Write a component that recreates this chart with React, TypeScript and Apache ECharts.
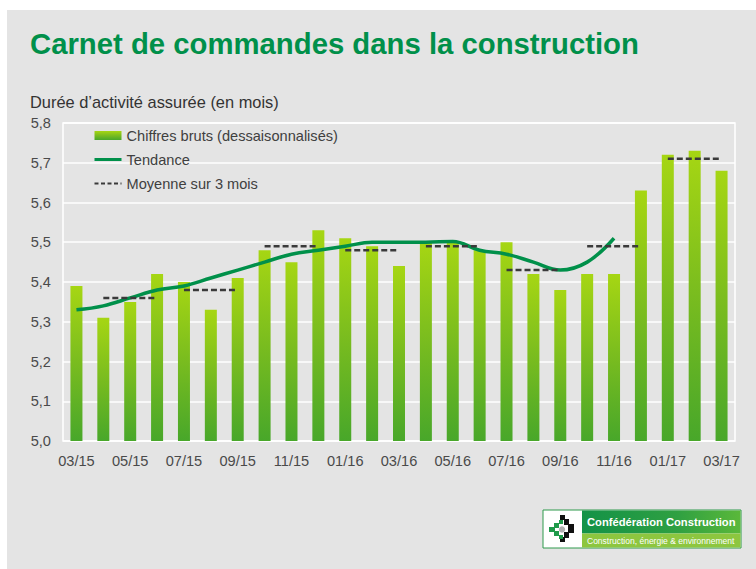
import React, { useEffect, useRef } from "react";
import * as echarts from "echarts";

const categories = [
  "03/15", "04/15", "05/15", "06/15", "07/15", "08/15", "09/15", "10/15", "11/15", "12/15",
  "01/16", "02/16", "03/16", "04/16", "05/16", "06/16", "07/16", "08/16", "09/16", "10/16",
  "11/16", "12/16", "01/17", "02/17", "03/17",
];

const chiffresBruts = [
  5.39, 5.31, 5.35, 5.42, 5.40, 5.33, 5.41, 5.48, 5.45, 5.53,
  5.51, 5.49, 5.44, 5.50, 5.50, 5.48, 5.50, 5.42, 5.38, 5.42,
  5.42, 5.63, 5.72, 5.73, 5.68,
];

const tendance = [
  5.33, 5.34, 5.36, 5.38, 5.39, 5.41, 5.43, 5.45, 5.47, 5.48,
  5.49, 5.50, 5.50, 5.50, 5.502, 5.48, 5.47, 5.45, 5.43, 5.45,
  5.51, null, null, null, null,
];

// 3-month averages: first month of each quarter segment, and its value
const moyenneDebut = ["04/15", "07/15", "10/15", "01/16", "04/16", "07/16", "10/16", "01/17"];
const moyenneValeurs = [5.36, 5.38, 5.49, 5.48, 5.49, 5.43, 5.49, 5.71];

const yTicks = ["5,0", "5,1", "5,2", "5,3", "5,4", "5,5", "5,6", "5,7", "5,8"];

const FONT = "'Liberation Sans', Arial, sans-serif";

function buildMoyenne(parity: number) {
  const data: (number | null)[] = categories.map(() => null);
  moyenneDebut.forEach((m, i) => {
    if (i % 2 !== parity) return;
    const s = categories.indexOf(m);
    for (let k = 0; k < 3; k++) data[s + k] = moyenneValeurs[i];
  });
  return data;
}

export default function App() {
  const ref = useRef<HTMLDivElement>(null);
  useEffect(() => {
    if (!ref.current) return;
    const chart = echarts.init(ref.current, undefined, { renderer: "svg" });
    const dash = {
      color: "#3a3a3a",
      width: 2.5,
      type: [6, 3] as any,
    };
    const cx = 563;
    const cy = 529;
    chart.setOption({
      animation: false,
      backgroundColor: "#ffffff",
      textStyle: { fontFamily: FONT },
      graphic: [
        { type: "rect", z: -10, shape: { x: 7, y: 10, width: 749, height: 559 }, style: { fill: "#e4e4e4" }, silent: true },
        {
          type: "text", x: 30, y: 43,
          style: { text: "Carnet de commandes dans la construction", fill: "#00904a", font: `bold 29.3px ${FONT}`, verticalAlign: "middle" },
        },
        {
          type: "text", x: 30, y: 102,
          style: { text: "Durée d’activité assurée (en mois)", fill: "#333333", font: `16.4px ${FONT}`, verticalAlign: "middle" },
        },
        // logo
        { type: "rect", shape: { x: 543, y: 510, width: 198, height: 38 }, style: { fill: "#ffffff", stroke: "#2e9a4c", lineWidth: 1 } },
        {
          type: "rect", shape: { x: 582, y: 510.5, width: 158.5, height: 23 },
          style: {
            fill: new echarts.graphic.LinearGradient(0, 0, 1, 0, [
              { offset: 0, color: "#139247" },
              { offset: 0.6, color: "#2fa042" },
              { offset: 1, color: "#5ab83a" },
            ]),
          },
        },
        { type: "rect", shape: { x: 582, y: 533.5, width: 158.5, height: 14 }, style: { fill: "#8dc63f" } },
        {
          type: "text", x: 587, y: 522,
          style: { text: "Confédération Construction", fill: "#ffffff", font: `bold 11.2px ${FONT}`, verticalAlign: "middle" },
        },
        {
          type: "text", x: 587, y: 540.5,
          style: { text: "Construction, énergie & environnement", fill: "#ffffff", font: `8.5px ${FONT}`, verticalAlign: "middle" },
        },
        {
          type: "polygon",
          shape: {
            points: [
              [cx - 3, cy - 14], [cx + 2, cy - 14], [cx + 2, cy - 10], [cx + 6, cy - 10], [cx + 6, cy - 5],
              [cx + 11, cy - 5], [cx + 11, cy + 4], [cx + 6, cy + 4], [cx + 6, cy + 9], [cx + 2, cy + 9],
              [cx + 2, cy + 13], [cx - 3, cy + 13], [cx - 3, cy + 8], [cx + 1, cy + 8], [cx + 1, cy + 3],
              [cx + 5, cy + 3], [cx + 5, cy - 4], [cx + 1, cy - 4], [cx + 1, cy - 9], [cx - 3, cy - 9],
            ],
          },
          style: { fill: "#111111" },
        },
        {
          type: "polygon",
          shape: {
            points: [
              [cx - 4, cy - 9], [cx, cy - 9], [cx, cy - 5], [cx - 4, cy - 5], [cx - 4, cy - 1],
              [cx - 8, cy - 1], [cx - 8, cy + 2], [cx - 4, cy + 2], [cx - 4, cy + 6], [cx, cy + 6],
              [cx, cy + 10], [cx - 4, cy + 10], [cx - 4, cy + 7], [cx - 9, cy + 7], [cx - 9, cy + 3],
              [cx - 14, cy + 3], [cx - 14, cy - 2], [cx - 9, cy - 2], [cx - 9, cy - 6], [cx - 4, cy - 6],
            ],
          },
          style: { fill: "#1f9a4a" },
        },
        { type: "circle", shape: { cx: cx - 1, cy: cy + 0.5, r: 3.2 }, style: { fill: "#b0b0b0" } },
      ],
      grid: {
        left: 63, right: 21, top: 123, bottom: 128,
        show: true, borderColor: "#ffffff", borderWidth: 1.5, backgroundColor: "transparent",
      },
      legend: {
        orient: "vertical",
        left: 93,
        top: 128,
        padding: 0,
        itemWidth: 27,
        itemHeight: 9,
        itemGap: 9,
        textStyle: { fontSize: 14.6, color: "#404040", fontFamily: FONT },
        data: [
          { name: "Chiffres bruts (dessaisonnalisés)", icon: "rect" },
          { name: "Tendance", itemStyle: { opacity: 0 }, lineStyle: { width: 3, color: "#00904a" } },
          { name: "Moyenne sur 3 mois", itemStyle: { opacity: 0 }, lineStyle: { width: 2, color: "#3a3a3a", type: [4, 2.5] } },
        ],
      },
      xAxis: {
        type: "category",
        data: categories,
        boundaryGap: true,
        axisLine: { show: false },
        axisTick: { show: false },
        axisLabel: { interval: 1, fontSize: 14.6, color: "#4a4a4a", margin: 12, fontFamily: FONT },
      },
      yAxis: {
        type: "value",
        min: 5.0,
        max: 5.8,
        interval: 0.1,
        axisLine: { show: false },
        axisTick: { show: false },
        splitLine: { lineStyle: { color: "#ffffff", width: 1.5 } },
        axisLabel: {
          fontSize: 14.6, color: "#4a4a4a", margin: 12, fontFamily: FONT,
          formatter: (v: number) => yTicks[Math.round((v - 5.0) * 10)] ?? "",
        },
      },
      series: [
        {
          name: "Chiffres bruts (dessaisonnalisés)",
          type: "bar",
          data: chiffresBruts,
          barWidth: 12,
          itemStyle: {
            color: new echarts.graphic.LinearGradient(0, 0, 0, 1, [
              { offset: 0, color: "#a6d613" },
              { offset: 0.5, color: "#79bc1f" },
              { offset: 1, color: "#48a72a" },
            ]),
          },
        },
        {
          name: "Tendance",
          type: "line",
          data: tendance,
          smooth: 0.4,
          symbol: "none",
          connectNulls: false,
          lineStyle: { color: "#00904a", width: 3.5 },
          itemStyle: { color: "#00904a" },
          z: 5,
        },
        {
          name: "Moyenne sur 3 mois",
          type: "line",
          data: buildMoyenne(0),
          symbol: "none",
          connectNulls: false,
          lineStyle: dash,
          itemStyle: { color: "#3a3a3a" },
          z: 6,
        },
        {
          name: "Moyenne sur 3 mois",
          type: "line",
          data: buildMoyenne(1),
          symbol: "none",
          connectNulls: false,
          lineStyle: dash,
          itemStyle: { color: "#3a3a3a" },
          z: 6,
        },
      ],
    });
    return () => chart.dispose();
  }, []);
  return (
    <div
      ref={ref}
      style={{ position: "absolute", left: 0, top: 0, width: 756, height: 569 }}
    />
  );
}
